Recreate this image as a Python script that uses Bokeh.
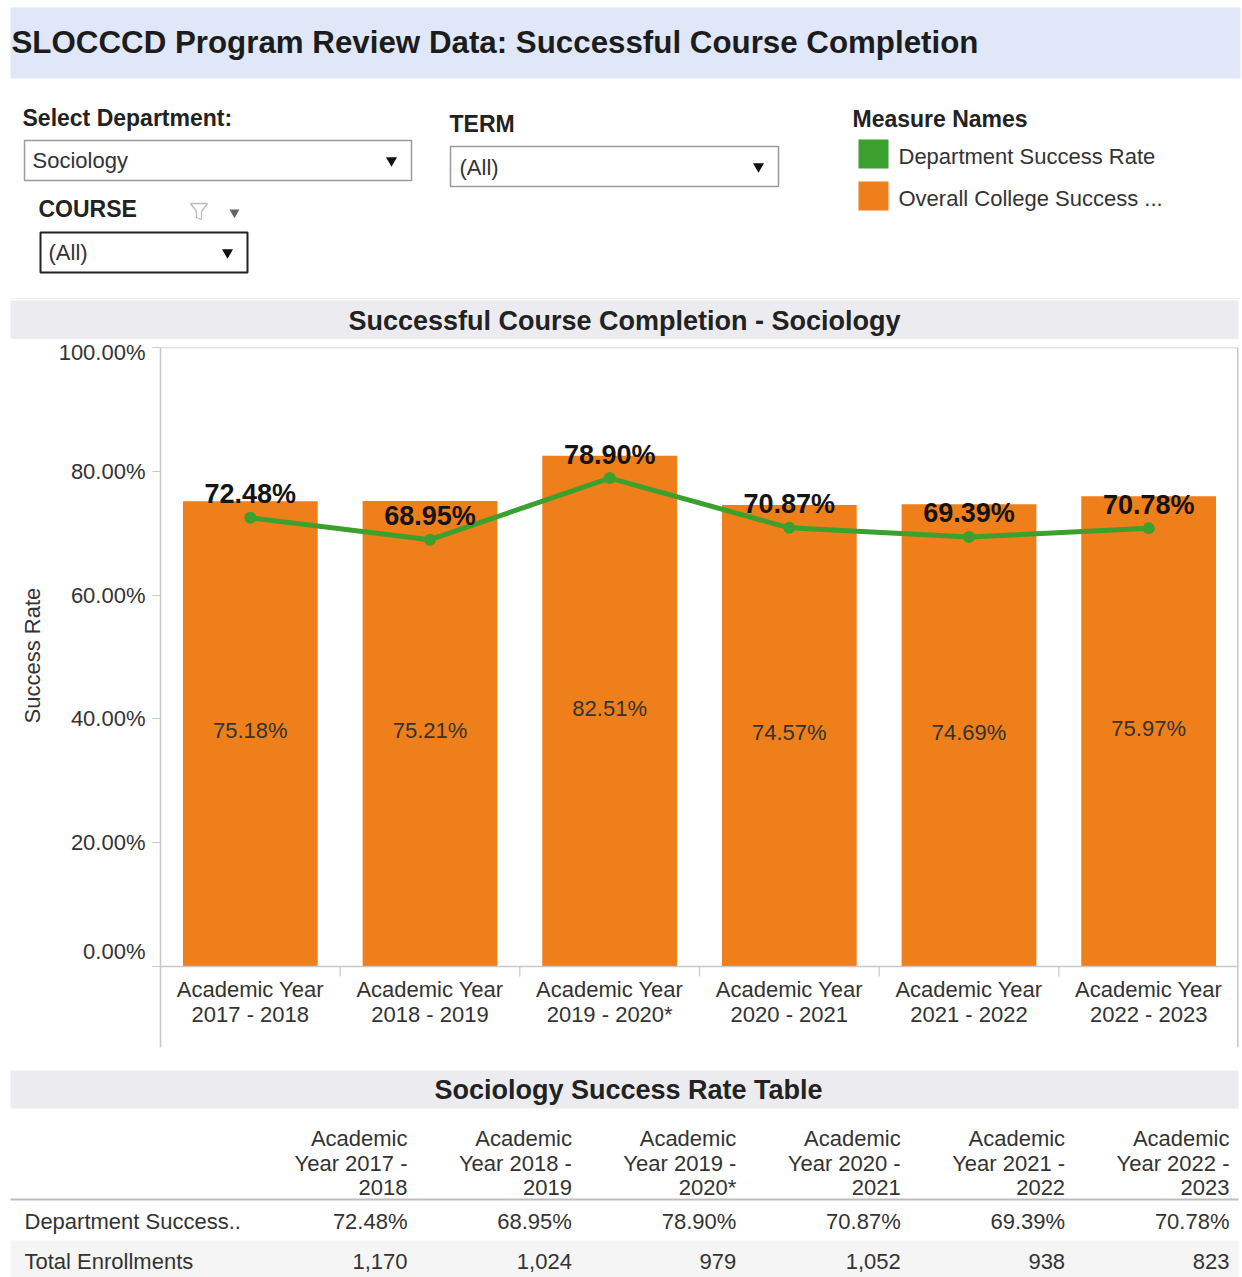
from bokeh.plotting import figure
from bokeh.layouts import column
from bokeh.models import (Range1d, FactorRange, FixedTicker, PrintfTickFormatter, ColumnDataSource,
                          Span, Title)
from bokeh.transform import dodge
from bokeh.core.properties import value
from bokeh.embed import file_html
from bokeh.resources import INLINE

# ---------------- data ----------------
department = "Sociology"
years = ["2017 - 2018", "2018 - 2019", "2019 - 2020*", "2020 - 2021", "2021 - 2022", "2022 - 2023"]
dept_rate = [72.48, 68.95, 78.90, 70.87, 69.39, 70.78]
college_rate = [75.18, 75.21, 82.51, 74.57, 74.69, 75.97]
enrollments = [1170, 1024, 979, 1052, 938, 823]
y_ticks = [0, 20, 40, 60, 80, 100]
legend_items = ["Department Success Rate", "Overall College Success ..."]
row_labels = ["Department Success..", "Total Enrollments"]

ORANGE = "#ee7f1a"
GREEN = "#3ca02f"
PANE = "#c8c8c8"
FONT = value("Liberation Sans")
W = 1242


def no_align(f):
    try:
        f.frame_align = False
    except Exception:
        pass


def txt(f, x, y, s, size=22, bold=False, align="left", baseline="middle", color="#333333"):
    f.text(x=[x], y=[y], text=[s], text_font=FONT, text_font_size=value(f"{size}px"),
           text_font_style="bold" if bold else "normal", text_align=align,
           text_baseline=baseline, text_color=color)


def box(f, l, r, t, b, fill=None, line=None, lw=1.0):
    f.quad(left=[l], right=[r], top=[t], bottom=[b], fill_color=fill, line_color=line, line_width=lw)


def pixel_fig(y0, h):
    f = figure(width=W, height=h, x_range=Range1d(0, W), y_range=Range1d(y0 + h, y0),
               output_backend="svg", toolbar_location=None, min_border=0,
               x_axis_location=None, y_axis_location=None)
    f.grid.visible = False
    f.outline_line_color = None
    no_align(f)
    return f


# ---------------- top: header, filters, legend ----------------
H1 = 339
top = pixel_fig(0, H1)
box(top, 10, 1240, 7, 78, fill="#e0e7f8")
txt(top, 11, 42, "SLOCCCD Program Review Data: Successful Course Completion", size=31.3, bold=True, color="#1c1c1c")

txt(top, 22, 117, "Select Department:", size=23, bold=True, color="#222222")
box(top, 24, 411, 140, 180, fill="white", line="#9a9a9a", lw=1.5)
txt(top, 32, 160, department)
top.scatter(x=[391], y=[160], marker="inverted_triangle", size=11, fill_color="#111111", line_color=None)

txt(top, 449, 123, "TERM", size=23, bold=True, color="#222222")
box(top, 450, 778, 146, 186, fill="white", line="#9a9a9a", lw=1.5)
txt(top, 459, 167, "(All)")
top.scatter(x=[758], y=[166], marker="inverted_triangle", size=11, fill_color="#111111", line_color=None)

txt(top, 38, 208, "COURSE", size=23, bold=True, color="#222222")
top.patch(x=[190, 207, 201, 201, 196, 196], y=[203, 203, 211, 219, 217, 211],
          fill_color=None, line_color="#bbbbbb", line_width=1.3)
top.scatter(x=[234], y=[212], marker="inverted_triangle", size=10, fill_color="#666666", line_color=None)
box(top, 40, 247, 232, 272, fill="white", line="#222222", lw=2)
txt(top, 48, 252, "(All)")
top.scatter(x=[227], y=[252], marker="inverted_triangle", size=11, fill_color="#111111", line_color=None)

txt(top, 852, 118, "Measure Names", size=23, bold=True, color="#222222")
box(top, 858, 888, 139, 168, fill=GREEN)
txt(top, 898, 156, legend_items[0])
box(top, 858, 888, 181, 210, fill=ORANGE)
txt(top, 898, 198, legend_items[1])

top.segment(x0=[10], x1=[1240], y0=[298], y1=[298], line_color="#eeeeee", line_width=1)
box(top, 10, 1238, 300, 339, fill="#ececf0")
txt(top, 624, 320, f"Successful Course Completion - {department}", size=27, bold=True,
    align="center", color="#222222")

# ---------------- chart ----------------
Y0C = H1              # page y of chart figure top (339)
H2 = 711
pane_top, zero_px, pane_bottom = 347, 966, 1047      # page pixels
y_start = -100.0 * (pane_bottom - zero_px) / (zero_px - pane_top)
cats = ["Academic Year\n" + y for y in years]
ch = figure(width=W, height=H2, x_range=FactorRange(*cats), y_range=Range1d(y_start, 100),
            output_backend="svg", toolbar_location=None,
            min_border_left=160, min_border_right=4,
            min_border_top=pane_top - Y0C, min_border_bottom=Y0C + H2 - pane_bottom)
no_align(ch)
ch.xgrid.visible = False
ch.ygrid.visible = False
ch.outline_line_color = None

ch.vbar(x=cats, top=college_rate, width=0.75, fill_color=ORANGE, line_color=None)
ch.line(x=cats, y=dept_rate, line_color=GREEN, line_width=5)
ch.scatter(x=cats, y=dept_rate, size=12, fill_color=GREEN, line_color=None)
ch.text(x=cats, y=dept_rate, text=[f"{v:.2f}%" for v in dept_rate], text_font=FONT,
        text_font_size=value("27px"), text_font_style="bold", text_align="center",
        text_baseline="middle", y_offset=-23.5, text_color="#141414")
ch.text(x=cats, y=[v / 2 for v in college_rate], text=[f"{v:.2f}%" for v in college_rate],
        text_font=FONT, text_font_size=value("22px"), text_align="center",
        text_baseline="middle", y_offset=-3, text_color="#333333")

# pane borders (top / right) and category dividers under the zero line
n = len(cats)
ch.add_layout(Span(location=100, dimension="width", line_color=PANE, line_width=1.5))
div_len = 100.0 * 10 / (zero_px - pane_top)
div_src = ColumnDataSource(dict(c=cats[:-1], y0=[0] * (n - 1), y1=[-div_len] * (n - 1)))
ch.segment(x0=dodge("c", 0.5, range=ch.x_range), x1=dodge("c", 0.5, range=ch.x_range),
           y0="y0", y1="y1", source=div_src, line_color=PANE, line_width=1.2)
edge_src = ColumnDataSource(dict(c=[cats[-1]], y0=[y_start], y1=[100]))
ch.segment(x0=dodge("c", 0.5, range=ch.x_range), x1=dodge("c", 0.5, range=ch.x_range),
           y0="y0", y1="y1", source=edge_src, line_color=PANE, line_width=3)

ya = ch.yaxis[0]
ya.ticker = FixedTicker(ticks=y_ticks)
ya.formatter = PrintfTickFormatter(format="%.2f%%")
# the 0% label is nudged up inside the pane, as in the original view
ya.major_label_overrides = {y_ticks[0]: f"{y_ticks[0]:.2f}%" + "\n"}
ya.major_label_text_font = "Liberation Sans"
ya.major_label_text_font_size = "22px"
ya.major_label_text_color = "#333333"
ya.major_label_standoff = 7
ya.major_tick_out = 8
ya.major_tick_in = 0
ya.major_tick_line_color = PANE
ya.minor_tick_line_color = None
ya.axis_line_color = PANE
ya.axis_line_width = 1.5

# axis title, placed along the 0-100% span of the pane
ch.add_layout(Title(text="Success Rate", align="left", offset=pane_bottom - 723, standoff=22,
                    text_font="Liberation Sans", text_font_size="22px", text_font_style="normal",
                    text_color="#333333"), "left")

xa = ch.xaxis[0]
xa.fixed_location = 0
xa.major_label_text_font = "Liberation Sans"
xa.major_label_text_font_size = "22px"
xa.major_label_text_color = "#333333"
xa.major_label_text_line_height = 1.0
xa.major_label_standoff = 4
xa.major_tick_line_color = None
xa.minor_tick_line_color = None
xa.axis_line_color = PANE
xa.axis_line_width = 1.5

# ---------------- table ----------------
Y0T = Y0C + H2        # 1050
H3 = 1277 - Y0T
tb = pixel_fig(Y0T, H3)
box(tb, 10, 1238, 1070, 1108, fill="#ececf0")
txt(tb, 628, 1089, f"{department} Success Rate Table", size=27, bold=True, align="center", color="#222222")
col_right = [407 + i * 164.4 for i in range(len(years))]
for i, y in enumerate(years):
    a, b = y.split(" - ")
    for line, yy in zip(["Academic", f"Year {a} -", b], [1138, 1163, 1187]):
        txt(tb, col_right[i], yy, line, align="right")
tb.segment(x0=[10], x1=[1238], y0=[1199], y1=[1199], line_color="#bdbdbd", line_width=2)
box(tb, 10, 1238, 1240, 1277, fill="#f5f5f5")
txt(tb, 24, 1221, row_labels[0])
txt(tb, 24, 1261, row_labels[1])
for i in range(len(years)):
    txt(tb, col_right[i], 1221, f"{dept_rate[i]:.2f}%", align="right")
    txt(tb, col_right[i], 1261, f"{enrollments[i]:,}", align="right")

page = column(top, ch, tb, spacing=0)
open("out.html", "w").write(file_html(page, INLINE))
